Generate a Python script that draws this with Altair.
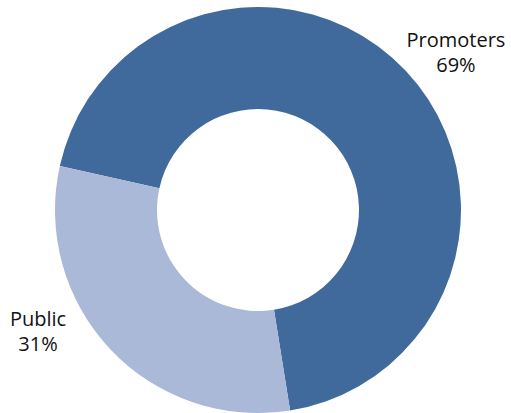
import math
import altair as alt
import pandas as pd

categories = ["Promoters", "Public"]
shares = [69, 31]
order = [1, 2]
colors = ["#416A9C", "#AAB9D7"]

df = pd.DataFrame({"category": categories, "share": shares, "ord": order})

start = math.radians(282.5)
cx, cy = 258, 210

base = alt.Chart(df).encode(
    theta=alt.Theta("share:Q", stack=True,
                    scale=alt.Scale(range=[start, start + 2 * math.pi])),
    order=alt.Order("ord:Q"),
    x=alt.value(cx),
    y=alt.value(cy),
)

arcs = base.mark_arc(outerRadius=203, innerRadius=101, stroke=None).encode(
    color=alt.Color("category:N",
                    scale=alt.Scale(domain=categories, range=colors),
                    legend=None)
)

def label(cat, dx, dy):
    return base.transform_calculate(
        lbl=f"datum.category == '{cat}' ? datum.category + '\\n' + datum.share + '%' : ''"
    ).mark_text(
        radius=250, dx=dx, dy=dy, lineBreak="\n", font="Open Sans",
        fontSize=20, lineHeight=25, color="#111111", align="center",
        baseline="middle"
    ).encode(text="lbl:N")

chart = alt.layer(arcs, label("Promoters", 16, 2), label("Public", -38, -61)).properties(
    width=511, height=413,
    autosize=alt.AutoSizeParams(type="none"),
    padding=0,
).configure_view(stroke=None)

chart.save("out.html", embed_options={"renderer": "svg", "actions": False})
